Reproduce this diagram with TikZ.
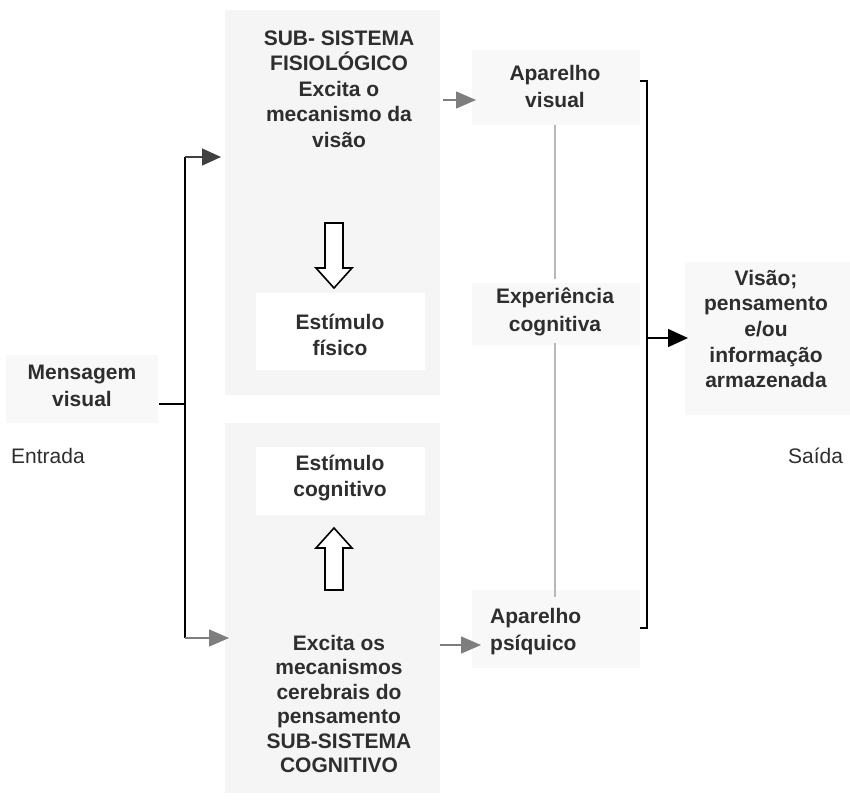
\documentclass[tikz,border=0pt]{standalone}
\usepackage{fontspec}
\setmainfont{Liberation Sans}
\usetikzlibrary{arrows.meta}
\definecolor{ink}{HTML}{2E2E2E}
\definecolor{panel}{HTML}{F5F5F5}
\definecolor{softbox}{HTML}{F8F8F8}
\definecolor{arrowgray}{HTML}{7E7E7E}
\newcommand{\lblfont}[1]{\bfseries\fontsize{21}{#1}\selectfont}
\tikzset{
  lbl/.style={text=ink, font=\lblfont{25}, align=center, inner sep=0pt},
  spread/.style={font=\lblfont{#1}},
  plain/.style={text=ink, font=\fontsize{21}{25}\selectfont, inner sep=0pt},
  link/.style={line width=1.3pt, draw=black},
  grayarrow/.style={line width=1.5pt, draw=arrowgray, -{Triangle[length=20pt,width=17pt]}},
  darkarrow/.style={line width=1.5pt, draw=black!75, -{Triangle[length=19pt,width=17pt]}},
  outarrow/.style={line width=1.5pt, draw=black, -{Triangle[length=20pt,width=18pt]}},
  hollow/.style={draw=black, line width=1.6pt, fill=white, line join=miter},
  linkgray/.style={line width=2.2pt, draw=black!28}
}
\begin{document}
\begin{tikzpicture}[x=1pt, y=-1pt]
\useasboundingbox (0,0) rectangle (850,806);
\fill[white] (0,0) rectangle (850,806);

% background panels of the two subsystems
\fill[panel] (225,10) rectangle (440,395);
\fill[panel] (225,423) rectangle (440,793);
\fill[white] (256,293) rectangle (425,370);
\fill[white] (256,447) rectangle (425,515);

% soft boxes behind the side labels
\fill[softbox] (6,355) rectangle (158,423);
\fill[softbox] (472,50) rectangle (640,125);
\fill[softbox] (472,283) rectangle (640,345);
\fill[softbox] (472,590) rectangle (640,668);
\fill[softbox] (685,262) rectangle (850,415);

% text nodes
\node[lbl, spread=27] (mens) at (82,386) {Mensagem\\visual};
\node[plain, anchor=west] (entrada) at (11,456) {Entrada};
\node[lbl, spread=25.5] (fisio) at (339,89) {SUB- SISTEMA\\FISIOLÓGICO\\Excita o\\mecanismo da\\visão};
\node[lbl, spread=26] (estfis) at (340,335) {Estímulo\\físico};
\node[lbl, spread=26] (estcog) at (340,478) {Estímulo\\cognitivo};
\node[lbl, spread=24.4] (cogn) at (339,704) {Excita os\\mecanismos\\cerebrais do\\pensamento\\SUB-SISTEMA\\COGNITIVO};
\node[lbl, spread=27] (aparvis) at (555,86) {Aparelho\\visual};
\node[lbl, spread=28] (expcog) at (555,312) {Experiência\\cognitiva};
\node[lbl, spread=27, align=left, anchor=west] (aparpsi) at (490,632) {Aparelho\\psíquico};
\node[lbl, spread=25.7] (visao) at (766,329) {Visão;\\pensamento\\e/ou\\informação\\armazenada};
\node[plain, anchor=west] (saida) at (788,456) {Saída};

% input branching
\coordinate (msgout) at (159,404);
\coordinate (split) at (185,404);
\coordinate (splittop) at (185,157);
\coordinate (splitbot) at (185,638);
\coordinate (fisioin) at (221,157);
\coordinate (cognin) at (229,638);
\draw[link] (msgout) -- (split);
\draw[link] (splitbot) -- (splittop);
\draw[darkarrow] (splittop) -- (fisioin);
\draw[grayarrow] (splitbot) -- (cognin);

% arrows to the two apparatuses
\coordinate (visout) at (443,100);
\coordinate (visin) at (476,100);
\coordinate (psiout) at (440,645);
\coordinate (psiin) at (481,645);
\draw[grayarrow] (visout) -- (visin);
\draw[grayarrow] (psiout) -- (psiin);

% vertical link through cognitive experience
\coordinate (lk1) at (555,125);
\coordinate (lk2) at (555,279);
\coordinate (lk3) at (555,343);
\coordinate (lk4) at (555,597);
\draw[linkgray] (lk1) -- (lk2);
\draw[linkgray] (lk3) -- (lk4);

% output bracket
\coordinate (brtop) at (647,81);
\coordinate (brbot) at (647,628);
\coordinate (brmid) at (647,338);
\coordinate (outin) at (688,338);
\draw[link, line width=1.7pt] (640,81) -- (brtop) -- (brbot) -- (640,628);
\draw[outarrow] (brmid) -- (outin);

% hollow block arrows between stimulus boxes
\draw[hollow] (325,223) -- (343,223) -- (343,268) -- (352,268) -- (334,288) -- (316,268) -- (325,268) -- cycle;
\draw[hollow] (325,590) -- (343,590) -- (343,548) -- (352,548) -- (334,528) -- (316,548) -- (325,548) -- cycle;
\end{tikzpicture}
\end{document}
